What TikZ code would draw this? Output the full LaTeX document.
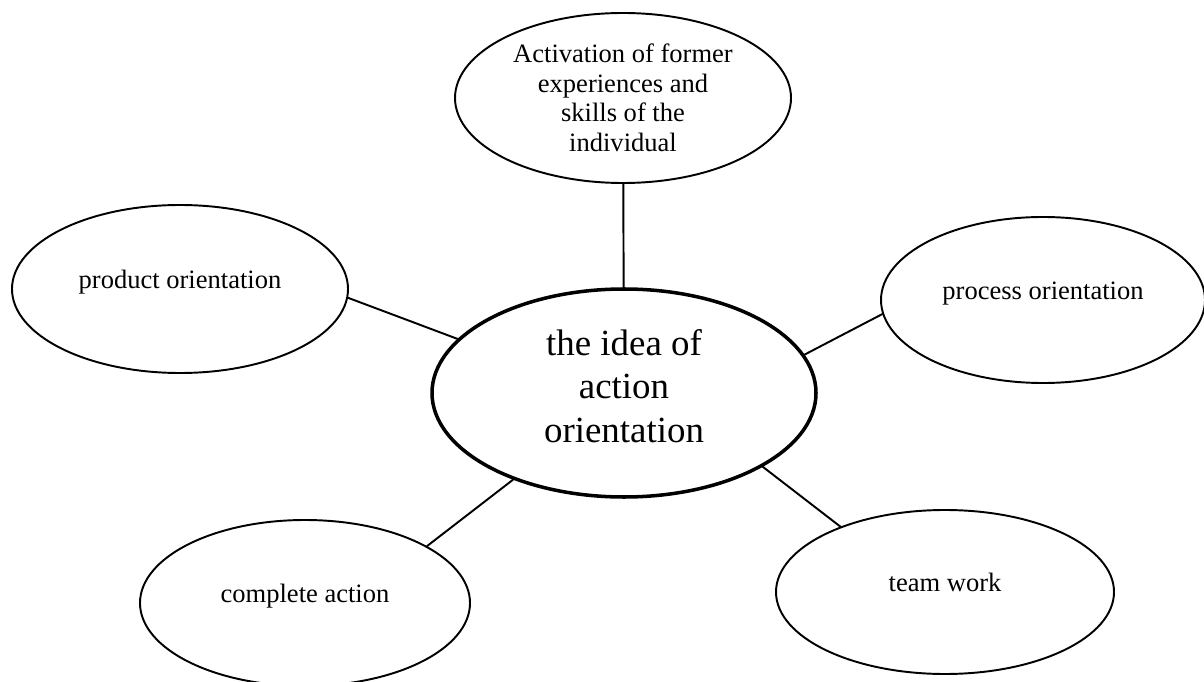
\documentclass[tikz,border=0pt]{standalone}
\usepackage{fontspec}
\setmainfont{Liberation Serif}
\usepackage{tikz}
\usetikzlibrary{shapes.geometric}
\tikzset{
  every picture/.style={line join=round, line cap=round},
  bubble/.style={draw, ellipse, line width=1.1pt, inner sep=0pt, align=center,
    font=\fontsize{15.1pt}{16.8pt}\selectfont},
  oneline/.style={text height=10.6pt, text depth=11.7pt},
  hub/.style={bubble, line width=2pt, font=\fontsize{21pt}{24.8pt}\selectfont},
  link/.style={line width=1.1pt},
}

\begin{document}
\begin{tikzpicture}
\useasboundingbox (0,0) rectangle (24.080,13.620);
\node[hub,minimum width=7.68cm,minimum height=4.16cm] (core) at (12.480,5.760)
  {the idea of\\action\\orientation\rule[-0.39em]{0pt}{0pt}};
\node[bubble,minimum width=6.72cm,minimum height=3.40cm] (former) at (12.460,11.660)
  {Activation of former\\experiences and\\skills of the\\individual};
\node[bubble,oneline,minimum width=6.72cm,minimum height=3.36cm] (product) at (3.600,7.840) {product orientation};
\node[bubble,oneline,minimum width=6.48cm,minimum height=3.32cm] (process) at (20.860,7.620) {process orientation};
\node[bubble,oneline,minimum width=6.60cm,minimum height=3.32cm] (complete) at (6.100,1.560) {complete action};
\node[bubble,oneline,minimum width=6.76cm,minimum height=3.28cm] (team) at (18.900,1.780) {team work};
\draw[link] (former) -- (core);
\draw[link] (product.-3) -- (core.162.6);
\draw[link] (process.-175) -- (core.12.6);
\draw[link] (complete.25.8) -- (core.-142.2);
\draw[link] (team.148.9) -- (core.-28.6);
\end{tikzpicture}
\end{document}
